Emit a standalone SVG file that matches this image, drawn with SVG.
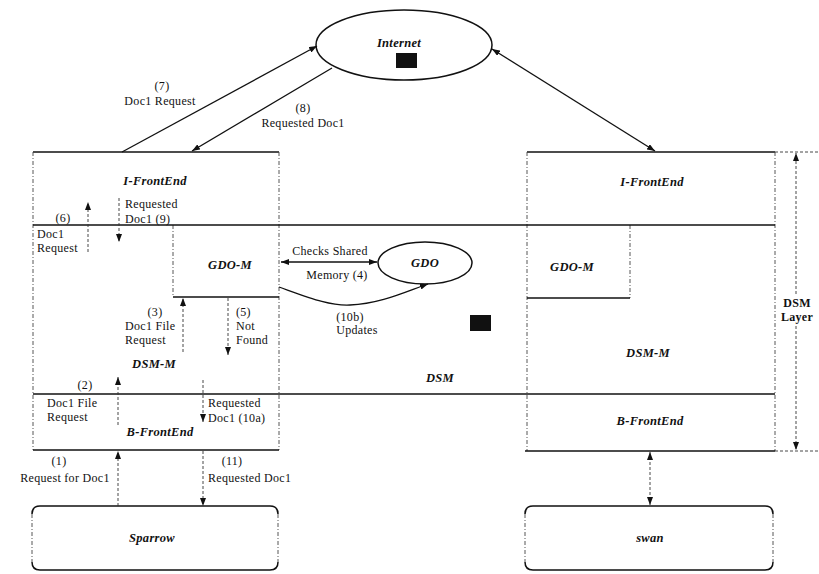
<svg xmlns="http://www.w3.org/2000/svg" width="819" height="574" viewBox="0 0 819 574">
<style>
.s{stroke:#111;stroke-width:1.5;fill:none}
.d{stroke:#444;stroke-width:0.9;fill:none;stroke-dasharray:4 2 1 2}
.c{stroke:#111;stroke-width:1.3;fill:none}
.cd{stroke:#333;stroke-width:0.9;fill:none;stroke-dasharray:3 2}
.t{font-family:"Liberation Serif","Times New Roman",serif;font-size:12px;fill:#111;letter-spacing:0.3px}
.m{text-anchor:middle}
.b{font-weight:bold;font-style:italic;font-size:12.5px}
</style>
<defs>
<marker id="ah" viewBox="0 0 8 6" refX="8" refY="3" markerWidth="8" markerHeight="6" markerUnits="userSpaceOnUse" orient="auto-start-reverse"><path d="M0,0 L8,3 L0,6 z" fill="#111"/></marker>
</defs>
<rect width="819" height="574" fill="#fff"/>

<g id="internet">
<ellipse cx="404" cy="45" rx="88" ry="35" class="s" fill="#fff"/>
<text x="399" y="47" class="t m b">Internet</text>
<rect x="396" y="53" width="21" height="15" fill="#111"/>
</g>

<g id="left-node">
<line x1="33" y1="152" x2="279" y2="152" class="s"/>
<line x1="33" y1="152" x2="33" y2="450" class="d"/>
<line x1="279" y1="152" x2="279" y2="450" class="d"/>
<line x1="33" y1="450" x2="279" y2="450" class="s"/>
<text x="155" y="185" class="t m b">I-FrontEnd</text>
<text x="154" y="368" class="t m b">DSM-M</text>
<text x="160" y="436" class="t m b">B-FrontEnd</text>
</g>
<g id="left-gdom">
<line x1="173" y1="225" x2="173" y2="297" class="d"/>
<line x1="173" y1="297" x2="279" y2="297" class="s"/>
<text x="230" y="269" class="t m b">GDO-M</text>
</g>

<g id="right-node">
<line x1="527" y1="152" x2="775" y2="152" class="s"/>
<line x1="527" y1="152" x2="527" y2="451" class="d"/>
<line x1="775" y1="152" x2="775" y2="451" class="d"/>
<line x1="525" y1="451" x2="775" y2="451" class="s"/>
<text x="652" y="186" class="t m b">I-FrontEnd</text>
<text x="648" y="357" class="t m b">DSM-M</text>
<text x="650" y="425" class="t m b">B-FrontEnd</text>
</g>
<g id="right-gdom">
<line x1="630" y1="225" x2="630" y2="298" class="d"/>
<line x1="527" y1="298" x2="630" y2="298" class="s"/>
<text x="572" y="271" class="t m b">GDO-M</text>
</g>

<g id="dsm">
<line x1="33" y1="225" x2="775" y2="225" class="s"/>
<line x1="33" y1="394" x2="775" y2="394" class="s"/>
<text x="440" y="382" class="t m b">DSM</text>
<rect x="470" y="315" width="21" height="16" fill="#111"/>
</g>

<g id="gdo">
<ellipse cx="425" cy="263" rx="47" ry="21" class="s" fill="#fff"/>
<text x="425" y="267" class="t m b">GDO</text>
</g>

<g id="sparrow">
<path d="M32,514 Q32,506 40,506 L270,506 Q278,506 278,514" class="s"/>
<path d="M32,562 Q32,570 40,570 L270,570 Q278,570 278,562" class="s"/>
<line x1="32" y1="514" x2="32" y2="562" class="d"/>
<line x1="278" y1="514" x2="278" y2="562" class="d"/>
<text x="152" y="542" class="t m b">Sparrow</text>
</g>

<g id="swan">
<path d="M525,514 Q525,506 533,506 L765,506 Q773,506 773,514" class="s"/>
<path d="M525,562 Q525,570 533,570 L765,570 Q773,570 773,562" class="s"/>
<line x1="525" y1="514" x2="525" y2="562" class="d"/>
<line x1="773" y1="514" x2="773" y2="562" class="d"/>
<text x="650" y="542" class="t m b">swan</text>
</g>

<g id="dsm-layer">
<line x1="775" y1="152" x2="819" y2="152" class="cd"/>
<line x1="775" y1="451" x2="819" y2="451" class="cd"/>
<line x1="796" y1="294" x2="796" y2="153" class="cd" marker-end="url(#ah)"/>
<line x1="796" y1="326" x2="796" y2="450" class="cd" marker-end="url(#ah)"/>
<text x="797" y="307" class="t m" style="font-weight:bold">DSM</text>
<text x="797" y="321" class="t m" style="font-weight:bold">Layer</text>
</g>

<g id="connectors">
<line x1="122" y1="152" x2="317" y2="46" class="c" marker-end="url(#ah)"/>
<line x1="332" y1="68" x2="192" y2="151" class="c" marker-end="url(#ah)"/>
<line x1="492" y1="49" x2="655" y2="151" class="c" marker-start="url(#ah)" marker-end="url(#ah)"/>
<line x1="88" y1="252" x2="88" y2="202" class="cd" marker-end="url(#ah)"/>
<line x1="119" y1="198" x2="119" y2="242" class="cd" marker-end="url(#ah)"/>
<line x1="183" y1="352" x2="183" y2="298" class="cd" marker-end="url(#ah)"/>
<line x1="228" y1="298" x2="228" y2="355" class="cd" marker-end="url(#ah)"/>
<line x1="118" y1="425" x2="118" y2="377" class="cd" marker-end="url(#ah)"/>
<line x1="203" y1="380" x2="203" y2="422" class="cd" marker-end="url(#ah)"/>
<line x1="118" y1="506" x2="118" y2="451" class="cd" marker-end="url(#ah)"/>
<line x1="203" y1="451" x2="203" y2="506" class="cd" marker-end="url(#ah)"/>
<line x1="650" y1="452" x2="650" y2="505" class="cd" marker-start="url(#ah)" marker-end="url(#ah)"/>
<line x1="281" y1="262" x2="377" y2="262" class="c" marker-start="url(#ah)" marker-end="url(#ah)"/>
<path d="M279,287 C310,298 330,306 350,305 C380,304 405,292 428,284" class="c" marker-end="url(#ah)"/>
</g>

<g id="labels">
<text x="162" y="90" class="t m">(7)</text>
<text x="160" y="105" class="t m">Doc1 Request</text>
<text x="303" y="112" class="t m">(8)</text>
<text x="303" y="127" class="t m">Requested Doc1</text>
<text x="63" y="222" class="t m">(6)</text>
<text x="37" y="238" class="t">Doc1</text>
<text x="37" y="252" class="t">Request</text>
<text x="125" y="208" class="t">Requested</text>
<text x="125" y="223" class="t">Doc1 (9)</text>
<text x="155" y="316" class="t m">(3)</text>
<text x="125" y="330" class="t">Doc1 File</text>
<text x="125" y="344" class="t">Request</text>
<text x="236" y="316" class="t">(5)</text>
<text x="236" y="330" class="t">Not</text>
<text x="236" y="344" class="t">Found</text>
<text x="330" y="255" class="t m">Checks Shared</text>
<text x="337" y="279" class="t m">Memory (4)</text>
<text x="350" y="321" class="t m">(10b)</text>
<text x="357" y="334" class="t m">Updates</text>
<text x="85" y="389" class="t m">(2)</text>
<text x="47" y="407" class="t">Doc1 File</text>
<text x="47" y="421" class="t">Request</text>
<text x="208" y="407" class="t">Requested</text>
<text x="208" y="422" class="t">Doc1 (10a)</text>
<text x="59" y="465" class="t m">(1)</text>
<text x="65" y="482" class="t m">Request for Doc1</text>
<text x="232" y="465" class="t m">(11)</text>
<text x="208" y="482" class="t">Requested Doc1</text>
</g>
</svg>
